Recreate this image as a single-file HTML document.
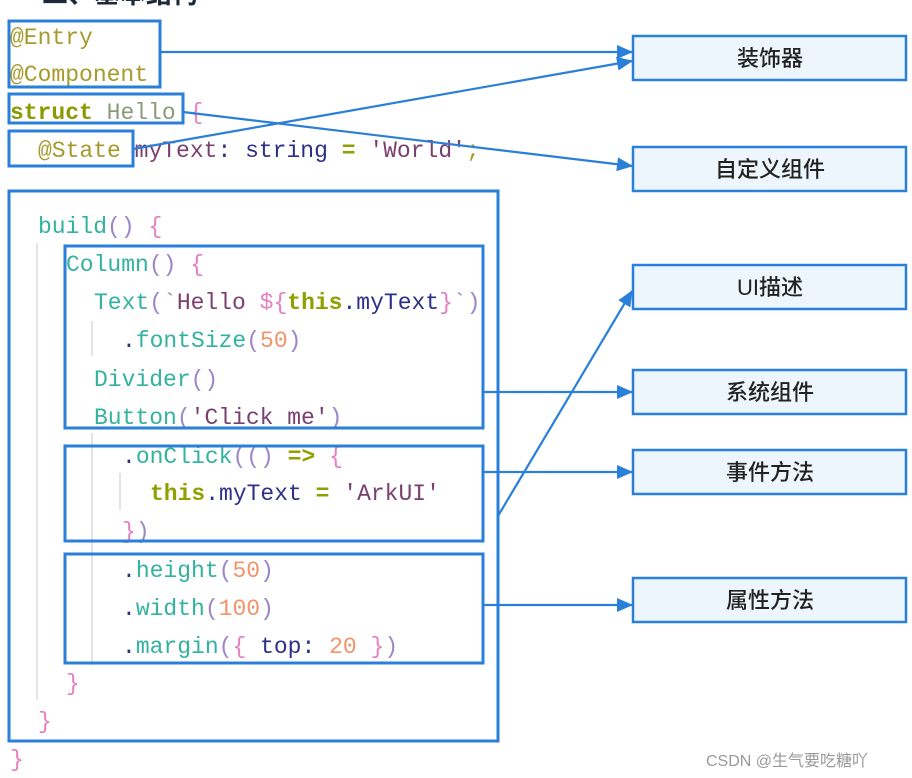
<!DOCTYPE html>
<html><head><meta charset="utf-8"><style>
html,body{margin:0;padding:0;background:#fff;width:912px;height:778px;overflow:hidden}
svg{display:block}
.c{font-family:"Liberation Mono",monospace;font-size:23px}
.d{fill:#a59a2a}.k{fill:#8a9a00;font-weight:bold}.n{fill:#8a9a7a}.p{fill:#e77ec0}.f{fill:#33b2a0}
.s{fill:#7a3f6e}.t{fill:#2e2f86}.o{fill:#f2936a}.g{fill:#666}.y{fill:#8fa000;font-weight:bold}.b{fill:#9b86c8}
.cj{font-family:"Liberation Sans","Noto Sans CJK SC",sans-serif;font-size:22px;fill:#222;font-weight:500}
</style></head><body>
<svg width="912" height="778" xmlns="http://www.w3.org/2000/svg">
<defs><marker id="a" markerWidth="16" markerHeight="14" refX="15" refY="7" orient="auto" markerUnits="userSpaceOnUse"><path d="M0,0 L16,7 L0,14 z" fill="#2a7fd8"/></marker></defs>
<text x="42" y="3" style="font-family:'Noto Sans CJK SC',sans-serif;font-size:26px;font-weight:bold;fill:#1e2a3a">二、基本结构</text>
<g stroke="#e3e3e3" stroke-width="2">
<line x1="37" y1="243" x2="37" y2="700"/>
<line x1="92" y1="321" x2="92" y2="356"/>
<line x1="92" y1="433" x2="92" y2="665"/>
<line x1="120" y1="473" x2="120" y2="510"/>
</g>
<g class="c">
<text x="10" y="44"><tspan class="d">@Entry</tspan></text>
<text x="10" y="81"><tspan class="d">@Component</tspan></text>
<text x="10" y="119"><tspan class="k">struct</tspan> <tspan class="n">Hello</tspan> <tspan class="p">{</tspan></text>
<text x="38" y="157"><tspan class="d">@State</tspan> <tspan class="s">myText</tspan><tspan class="t">: string </tspan><tspan class="y">=</tspan> <tspan class="s">'World'</tspan><tspan class="d">;</tspan></text>
<text x="38" y="233"><tspan class="f">build</tspan><tspan class="b">()</tspan> <tspan class="p">{</tspan></text>
<text x="66" y="271"><tspan class="f">Column</tspan><tspan class="b">()</tspan> <tspan class="p">{</tspan></text>
<text x="94" y="309"><tspan class="f">Text</tspan><tspan class="b">(`</tspan><tspan class="s">Hello </tspan><tspan class="p">${</tspan><tspan class="y">this</tspan><tspan class="t">.myText</tspan><tspan class="p">}</tspan><tspan class="b">`)</tspan></text>
<text x="122" y="347"><tspan class="t">.</tspan><tspan class="f">fontSize</tspan><tspan class="b">(</tspan><tspan class="o">50</tspan><tspan class="b">)</tspan></text>
<text x="94" y="386"><tspan class="f">Divider</tspan><tspan class="b">()</tspan></text>
<text x="94" y="424"><tspan class="f">Button</tspan><tspan class="b">(</tspan><tspan class="s">'Click me'</tspan><tspan class="b">)</tspan></text>
<text x="122" y="463"><tspan class="t">.</tspan><tspan class="f">onClick</tspan><tspan class="b">(() </tspan><tspan class="y">=&gt;</tspan> <tspan class="p">{</tspan></text>
<text x="150" y="500"><tspan class="y">this</tspan><tspan class="t">.myText </tspan><tspan class="y">=</tspan> <tspan class="s">'ArkUI'</tspan></text>
<text x="122" y="538"><tspan class="p">}</tspan><tspan class="b">)</tspan></text>
<text x="122" y="577"><tspan class="t">.</tspan><tspan class="f">height</tspan><tspan class="b">(</tspan><tspan class="o">50</tspan><tspan class="b">)</tspan></text>
<text x="122" y="615"><tspan class="t">.</tspan><tspan class="f">width</tspan><tspan class="b">(</tspan><tspan class="o">100</tspan><tspan class="b">)</tspan></text>
<text x="122" y="653"><tspan class="t">.</tspan><tspan class="f">margin</tspan><tspan class="b">(</tspan><tspan class="p">{</tspan> <tspan class="t">top: </tspan><tspan class="o">20</tspan> <tspan class="p">}</tspan><tspan class="b">)</tspan></text>
<text x="66" y="690"><tspan class="p">}</tspan></text>
<text x="38" y="728"><tspan class="p">}</tspan></text>
<text x="10" y="766"><tspan class="p">}</tspan></text>
</g>
<g fill="none" stroke="#2a7fd8" stroke-width="3">
<rect x="9" y="21" width="151" height="66"/>
<rect x="9" y="94" width="174" height="29"/>
<rect x="9" y="131" width="124" height="35"/>
<rect x="9" y="191" width="489" height="550"/>
<rect x="65" y="246" width="418" height="182"/>
<rect x="65" y="446" width="418" height="95"/>
<rect x="65" y="554" width="418" height="109"/>
</g>
<g stroke="#2a7fd8" stroke-width="2.2" fill="none" marker-end="url(#a)">
<line x1="160" y1="52" x2="632" y2="52"/>
<line x1="133" y1="149" x2="632" y2="61"/>
<line x1="183" y1="112" x2="632" y2="166"/>
<line x1="498" y1="516" x2="632" y2="291"/>
<line x1="483" y1="392" x2="632" y2="392"/>
<line x1="483" y1="472" x2="632" y2="472"/>
<line x1="483" y1="605" x2="632" y2="605"/>
</g>
<g fill="#eef6fd" stroke="#2a7fd8" stroke-width="2.5">
<rect x="633" y="36" width="273" height="44"/>
<rect x="633" y="147" width="273" height="44"/>
<rect x="633" y="265" width="273" height="44"/>
<rect x="633" y="370" width="273" height="44"/>
<rect x="633" y="450" width="273" height="44"/>
<rect x="633" y="578" width="273" height="44"/>
</g>
<g class="cj" text-anchor="middle">
<text x="770" y="66">装饰器</text>
<text x="770" y="177">自定义组件</text>
<text x="770" y="295">UI描述</text>
<text x="770" y="400">系统组件</text>
<text x="770" y="480">事件方法</text>
<text x="770" y="608">属性方法</text>
</g>
<text x="706" y="766" style="font-family:'Liberation Sans','Noto Sans CJK SC',sans-serif;font-size:16px;fill:#999">CSDN @生气要吃糖吖</text>
</svg>
</body></html>
